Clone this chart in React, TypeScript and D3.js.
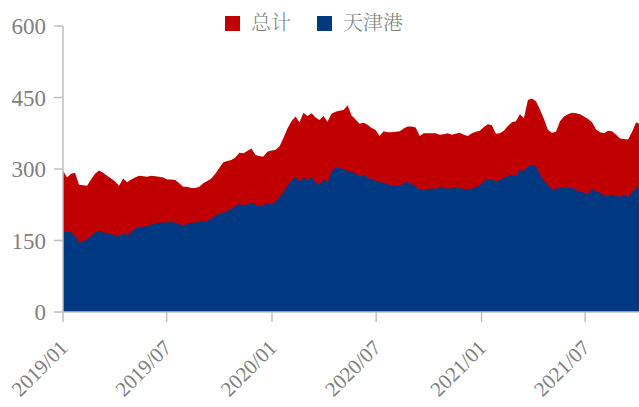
import React from 'react';
import * as d3 from 'd3';

const startDate = Date.UTC(2019, 0, 1);
const seriesNames = ['总计', '天津港'];
const seriesColors = ['#C00000', '#003882'];
const xTickLabels = ['2019/01', '2019/07', '2020/01', '2020/07', '2021/01', '2021/07'];
const yTicks = [0, 150, 300, 450, 600];

// weekly values
const totalValues = [
  297, 282, 290, 292, 267, 266, 265, 278, 290, 297,
  292, 286, 280, 274, 265, 280, 272, 278, 282, 286,
  285, 284, 286, 285, 284, 282, 278, 278, 277, 270,
  263, 263, 260, 260, 263, 270, 275, 280, 290, 302,
  314, 317, 319, 324, 334, 333, 338, 343, 330, 327,
  326, 336, 339, 340, 347, 365, 385, 400, 410, 398,
  418, 411, 417, 408, 403, 411, 399, 416, 420, 422,
  424, 434, 412, 404, 395, 397, 393, 386, 382, 369,
  379, 377, 377, 378, 379, 385, 389, 389, 387, 369,
  375, 375, 375, 375, 372, 373, 375, 372, 374, 376,
  372, 369, 375, 378, 380, 388, 394, 392, 374, 375,
  380, 390, 398, 400, 415, 407, 445, 448, 442, 425,
  405, 382, 376, 378, 400, 410, 415, 418, 417, 415,
  410, 405, 398, 383, 377, 375, 380, 379, 372, 364,
  363, 362, 378, 398, 394,
];
const tianjinValues = [
  168, 168, 168, 160, 146, 148, 152, 160, 166, 171,
  167, 165, 163, 161, 158, 166, 160, 168, 175, 179,
  179, 180, 183, 185, 187, 188, 188, 189, 187, 184,
  181, 185, 187, 188, 189, 190, 191, 196, 202, 206,
  209, 212, 216, 222, 227, 223, 226, 229, 226, 222,
  223, 229, 226, 232, 240, 252, 264, 276, 284, 274,
  282, 276, 283, 272, 267, 278, 272, 295, 303, 302,
  300, 296, 294, 290, 285, 287, 282, 278, 276, 272,
  271, 268, 265, 264, 265, 270, 273, 268, 265, 256,
  257, 258, 259, 258, 262, 260, 259, 259, 261, 260,
  258, 256, 259, 262, 265, 275, 279, 279, 273, 277,
  282, 285, 288, 285, 298, 296, 305, 308, 305, 288,
  276, 266, 258, 258, 261, 261, 260, 260, 256, 253,
  250, 247, 258, 253, 250, 245, 243, 246, 244, 242,
  246, 242, 250, 262, 261,
];

const W = 639;
const H = 407;
const plotLeft = 63;
const plotRight = 639;
const plotTop = 26;
const plotBottom = 312;

const DAY = 86400000;

export default function App() {
  const dates = totalValues.map((_, i) => new Date(startDate + i * 7 * DAY));
  const x = d3
    .scaleUtc()
    .domain([new Date(startDate), new Date(startDate + 1006 * DAY)])
    .range([plotLeft, plotRight]);
  const y = d3.scaleLinear().domain([0, 600]).range([plotBottom, plotTop]);

  const area = d3
    .area<number>()
    .x((_, i) => x(dates[i]))
    .y0(y(0))
    .y1((d) => y(d));

  const tickDates = xTickLabels.map((l) => {
    const [yy, mm] = l.split('/').map(Number);
    return new Date(Date.UTC(yy, mm - 1, 1));
  });

  const axisColor = '#bfbfbf';
  const textColor = '#808080';
  const serifStyle = {
    fontFamily:
      "'Liberation Serif', 'Times New Roman', Times, Tinos, 'DejaVu Serif', 'Noto Serif', serif",
  };
  const cjkStyle = {
    fontFamily: "'Noto Serif CJK SC', 'Noto Sans CJK SC', sans-serif",
    fontWeight: 300,
  };

  const legendX = [225, 317];

  return (
    <svg
      width={W}
      height={H}
      style={{ position: 'absolute', left: 0, top: 0, background: '#fff' }}
    >
      <defs>
        <clipPath id="plotClip">
          <rect x={plotLeft} y={0} width={plotRight - plotLeft} height={plotBottom} />
        </clipPath>
      </defs>
      <g clipPath="url(#plotClip)">
        <path d={area(totalValues) || ''} fill={seriesColors[0]} />
        <path d={area(tianjinValues) || ''} fill={seriesColors[1]} />
      </g>
      {/* y axis */}
      <line x1={plotLeft} x2={plotLeft} y1={plotTop} y2={plotBottom} stroke={axisColor} strokeWidth={1.5} />
      {yTicks.map((t) => (
        <g key={t}>
          <line x1={plotLeft - 9} x2={plotLeft} y1={y(t)} y2={y(t)} stroke={axisColor} strokeWidth={1.5} />
          <text
            x={46}
            y={y(t)}
            dy="0.35em"
            textAnchor="end"
            style={serifStyle}
            fontSize={23}
            fill={textColor}
          >
            {t}
          </text>
        </g>
      ))}
      {/* x axis */}
      <line x1={plotLeft} x2={plotRight} y1={plotBottom} y2={plotBottom} stroke={axisColor} strokeWidth={1.5} />
      {tickDates.map((d, i) => {
        const tx = x(d);
        return (
          <g key={xTickLabels[i]}>
            <line x1={tx} x2={tx} y1={plotBottom} y2={plotBottom + 10} stroke={axisColor} strokeWidth={1.5} />
            <text
              transform={`translate(${tx + 6},${plotBottom + 37}) rotate(-45)`}
              textAnchor="end"
              style={serifStyle}
              fontSize={21}
              fill={textColor}
            >
              {xTickLabels[i]}
            </text>
          </g>
        );
      })}
      {/* legend */}
      {seriesNames.map((name, i) => (
        <g key={name}>
          <rect x={legendX[i]} y={16} width={15} height={15} fill={seriesColors[i]} />
          <text
            x={legendX[i] + 26}
            y={30}
            style={cjkStyle}
            fontSize={20}
            fill={textColor}
          >
            {name}
          </text>
        </g>
      ))}
    </svg>
  );
}
